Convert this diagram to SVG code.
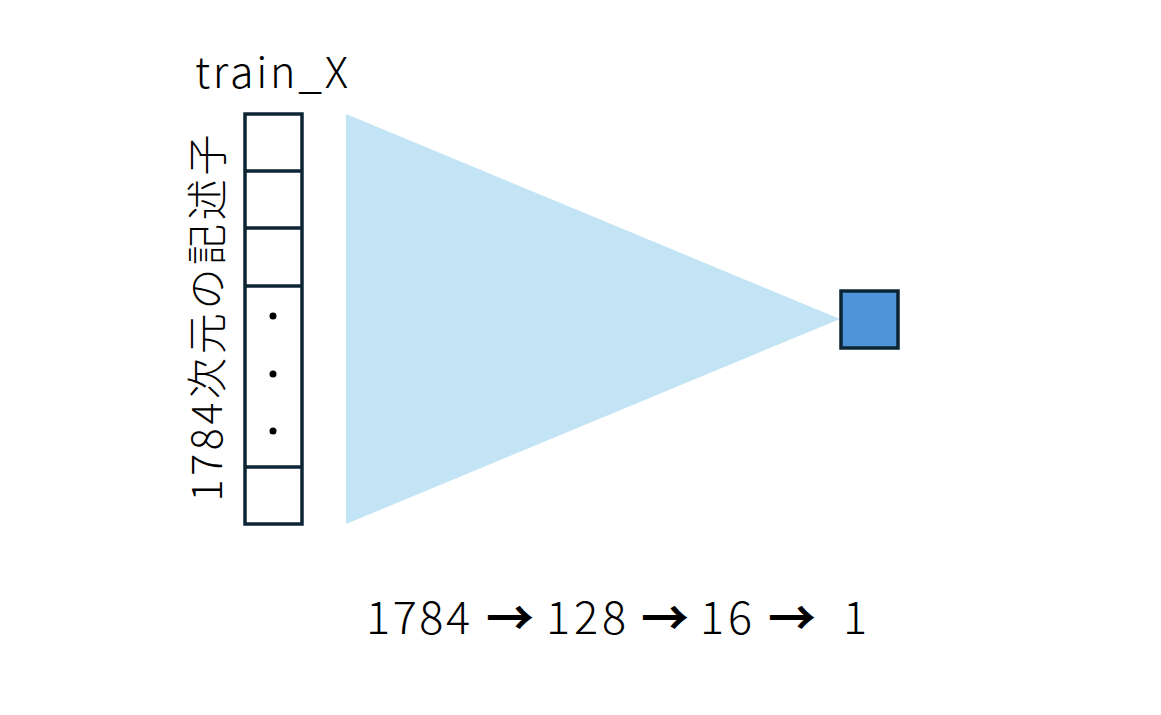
<svg xmlns="http://www.w3.org/2000/svg" width="1161" height="715" viewBox="0 0 1161 715">
<style>
.t{font-family:"Noto Sans CJK JP","Noto Sans",sans-serif;fill:#000;font-weight:300}
.a{font-family:"Noto Sans CJK JP","Noto Sans",sans-serif;fill:#000;font-weight:700;font-size:48px}
.cell{fill:#fff;stroke:#0b2535;stroke-width:3.5}
</style>
<rect width="1161" height="715" fill="#fff"/>
<g id="connectors">
<polygon points="346,114 346,524 840,319" fill="#c2e4f4"/>
</g>
<g id="train_X">
<text class="t" x="195" y="88" font-size="43" textLength="153" lengthAdjust="spacing">train_X</text>
<rect class="cell" x="245" y="114" width="57" height="410"/>
<line class="cell" x1="245" y1="171" x2="302" y2="171"/>
<line class="cell" x1="245" y1="228" x2="302" y2="228"/>
<line class="cell" x1="245" y1="286" x2="302" y2="286"/>
<line class="cell" x1="245" y1="467" x2="302" y2="467"/>
<circle cx="273" cy="316" r="3.5" fill="#000"/>
<circle cx="273" cy="374" r="3.5" fill="#000"/>
<circle cx="273" cy="431" r="3.5" fill="#000"/>
<text class="t" transform="translate(222,318) rotate(-90)" text-anchor="middle" font-size="41" textLength="367" lengthAdjust="spacing">1784次元の記述子</text>
</g>
<g id="output">
<rect x="841" y="291" width="57" height="57" fill="#4f94d8" stroke="#0b2535" stroke-width="3.5"/>
</g>
<g id="caption">
<text class="t" x="366" y="634" font-size="45" textLength="104" lengthAdjust="spacing">1784</text>
<text class="a" x="486" y="635">→</text>
<text class="t" x="546" y="634" font-size="45" textLength="80" lengthAdjust="spacing">128</text>
<text class="a" x="641" y="635">→</text>
<text class="t" x="700" y="634" font-size="45" textLength="52" lengthAdjust="spacing">16</text>
<text class="a" x="768" y="635">→</text>
<text class="t" x="843" y="634" font-size="45">1</text>
</g>
</svg>
